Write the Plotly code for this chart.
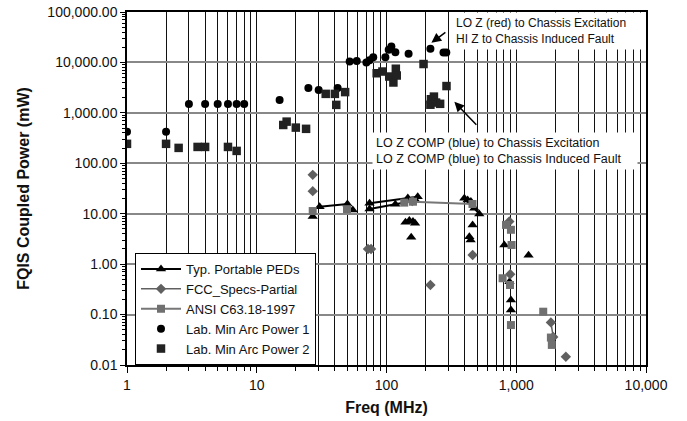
import plotly.graph_objects as go

# ---------------- data ----------------
N = None
# Typ. Portable PEDs (None = break in the connecting line)
typ_f = [27, N, 30.5, 50, N, 55, N, 74, 146, 174, N, 74, 117, 168, N,
         140, N, 150, N, 160, N, 166, N, 155, N,
         398, 422, 447, 475, 519, N, 435, N, 461, N, 445, N,
         809, N, 887, N, 910, N, 910, N, 1244]
typ_p = [8.8, N, 13.8, 15.5, N, 11.9, N, 16.1, 20.5, 21.8, N, 12.4, 15.4, 18.2, N,
         6.8, N, 7.3, N, 7.0, N, 6.5, N, 3.4, N,
         20.3, 18.8, 17.5, 12.8, 9.9, N, 3.5, N, 6.0, N, 3.0, N,
         2.4, N, 0.45, N, 0.195, N, 0.123, N, 1.5]

# FCC_Specs-Partial
fcc_f = [27, N, 27, N, 72, 76, N, 158, N, 218, N, 461, N, 884, N, 899, N, 1849, 1927, N, 2411]
fcc_p = [59, N, 28, N, 2.0, 2.0, N, 17.9, N, 0.386, N, 1.52, N, 7.0, N, 0.63, N, 0.070, 0.036, N, 0.0146]

# ANSI C63.18-1997
ansi_f = [27, N, 49.6, N, 137, 160, 460, N, 834, N, 910, N, 920, N, 785, N, 895, N, 910, N,
          1614, N, 1849, N, 1880]
ansi_p = [11.3, N, 12.3, N, 16.6, 17.3, 15.6, N, 6.0, N, 4.8, N, 2.4, N, 0.525, N, 0.386, N, 0.062, N,
          0.114, N, 0.035, N, 0.025]

# Lab. Min Arc Power 1
lab1_f = [1, 2, 3, 4, 5, 6, 7, 8, 15, 25, 30, 42, 52, 59, 70, 74, 79, 98, 104, 109, 117, 148, 218, 275, 289]
lab1_p = [420, 420, 1500, 1500, 1500, 1500, 1500, 1500, 1800, 3100, 2850, 3100, 10400, 10700, 10000,
          11000, 12700, 12700, 17800, 20600, 15900, 14800, 18600, 15700, 15700]

# Lab. Min Arc Power 2
lab2_f = [1, 2, 2.5, 3.5, 4, 6, 7, 16, 17, 20, 24, 34, 40, 41, 48, 84, 93, 105, 113, 118, 120,
          193, 218, 220, 232, 241, 259, 290]
lab2_p = [243, 243, 202, 211, 211, 211, 176, 575, 670, 510, 482, 2380, 2380, 1440, 2580, 6100, 6600,
          5250, 4000, 7500, 5500, 9300, 1450, 1860, 2100, 1600, 1510, 3400]

# axes
x_tickvals = [1, 10, 100, 1000, 10000]
x_ticktext = ["1", "10", "100", "1,000", "10,000"]
y_tickvals = [0.01, 0.1, 1, 10, 100, 1000, 10000, 100000]
y_ticktext = ["0.01", "0.10", "1.00", "10.00", "100.00", "1,000.00", "10,000.00", "100,000.00"]
x_minor = [m * d for d in [1, 10, 100, 1000] for m in range(2, 10)]
y_minor = [m * d for d in [0.01, 0.1, 1, 10, 100, 1000, 10000] for m in range(2, 10)]

note1 = "LO Z (red) to Chassis Excitation<br>HI Z to Chassis Induced Fault"
note2 = "LO Z COMP (blue) to Chassis Excitation<br>LO Z COMP (blue) to Chassis Induced Fault"

FONT = "Liberation Sans, Arial, sans-serif"

fig = go.Figure()
fig.add_trace(go.Scatter(x=typ_f, y=typ_p, mode="lines+markers", name="Typ. Portable PEDs",
                         line=dict(color="black", width=2),
                         marker=dict(symbol="triangle-up", size=9, color="black"),
                         connectgaps=False))
fig.add_trace(go.Scatter(x=fcc_f, y=fcc_p, mode="lines+markers", name="FCC_Specs-Partial",
                         line=dict(color="#606060", width=1.5),
                         marker=dict(symbol="diamond", size=8, color="#606060"),
                         connectgaps=False))
fig.add_trace(go.Scatter(x=ansi_f, y=ansi_p, mode="lines+markers", name="ANSI C63.18-1997",
                         line=dict(color="#777777", width=2),
                         marker=dict(symbol="square", size=8, color="#707070"),
                         connectgaps=False))
fig.add_trace(go.Scatter(x=lab1_f, y=lab1_p, mode="markers", name="Lab. Min Arc Power 1",
                         marker=dict(symbol="circle", size=8, color="black")))
fig.add_trace(go.Scatter(x=lab2_f, y=lab2_p, mode="markers", name="Lab. Min Arc Power 2",
                         marker=dict(symbol="square", size=8.5, color="#222222")))

fig.update_layout(
    width=687, height=421,
    margin=dict(l=127, r=41, t=12, b=56, autoexpand=False),
    paper_bgcolor="white", plot_bgcolor="white",
    font=dict(family=FONT, size=14, color="#111111"),
    showlegend=True,
    legend=dict(x=0.0154, y=0.0, xanchor="left", yanchor="bottom",
                bgcolor="white", bordercolor="black", borderwidth=1,
                font=dict(size=13, family=FONT, color="#111111"), tracegroupgap=0,
                itemwidth=40),
    xaxis=dict(type="log", range=[0, 4], tickmode="array", tickvals=x_tickvals, ticktext=x_ticktext,
               automargin=False,
               showgrid=True, gridcolor="#111111", gridwidth=1,
               ticks="outside", ticklen=6, tickcolor="black",
               showline=True, linecolor="black", linewidth=2, mirror=True,
               minor=dict(tickmode="array", tickvals=x_minor, showgrid=True, gridcolor="#111111",
                          gridwidth=1, ticks="outside", ticklen=4, tickcolor="black"),
               title=dict(text="<b>Freq (MHz)</b>", font=dict(size=16, family=FONT), standoff=10),
               zeroline=False),
    yaxis=dict(type="log", range=[-2, 5], tickmode="array", tickvals=y_tickvals, ticktext=y_ticktext,
               automargin=False,
               showgrid=True, gridcolor="#888888", gridwidth=2,
               ticks="outside", ticklen=5, tickcolor="black",
               showline=True, linecolor="black", linewidth=1.5, mirror=True,
               minor=dict(tickmode="array", tickvals=y_minor, showgrid=False,
                          ticks="outside", ticklen=3, tickcolor="black"),
               title=dict(text="<b>FQIS Coupled Power (mW)</b>", font=dict(size=16, family=FONT), standoff=14),
               zeroline=False),
)

fig.add_annotation(xref="paper", yref="paper", x=0.626, y=1.0, xanchor="left", yanchor="top",
                   text=note1, showarrow=False, align="left", bgcolor="white", borderpad=3,
                   width=182, font=dict(size=12, family=FONT, color="#111111"))
fig.add_annotation(xref="paper", yref="paper", x=0.472, y=0.660, xanchor="left", yanchor="top",
                   text=note2, showarrow=False, align="left", bgcolor="white", borderpad=3,
                   width=258, font=dict(size=12.5, family=FONT, color="#111111"))
# arrows (head at x, y in log units; tail offset in px)
fig.add_annotation(x=2.346, y=4.389, xref="x", yref="y", text=" ", showarrow=True,
                   ax=16, ay=-12, arrowhead=2, arrowsize=1.3, arrowwidth=1.5, arrowcolor="black",
                   font=dict(size=2))
fig.add_annotation(x=2.523, y=3.218, xref="x", yref="y", text=" ", showarrow=True,
                   ax=24, ay=25, arrowhead=2, arrowsize=1.3, arrowwidth=1.5, arrowcolor="black",
                   font=dict(size=2))

fig.write_html("out.html")
